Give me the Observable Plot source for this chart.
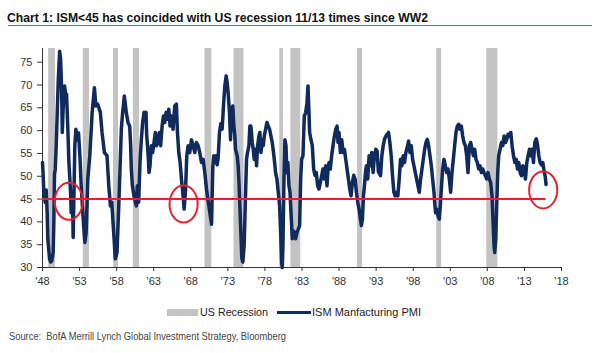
<!DOCTYPE html>
<html>
<head>
<meta charset="utf-8">
<script src="https://cdn.jsdelivr.net/npm/d3@7"></script>
<script src="https://cdn.jsdelivr.net/npm/@observablehq/plot@0.6"></script>
<style>
  html, body { margin: 0; padding: 0; background: #fff; }
  #page { position: relative; width: 600px; height: 353px; overflow: hidden; font-family: "Liberation Sans", Arial, sans-serif; }
  .txt { position: absolute; white-space: nowrap; line-height: 1; display: inline-block; transform-origin: 0 0; }
  #chart { position: absolute; left: 0; top: 30px; }
</style>
</head>
<body>
<div id="page">
  <span class="txt" id="title" style="left:7px; top:10.7px; font-size:13px; font-weight:bold; color:#111;" data-w="421">Chart 1: ISM&lt;45 has coincided with US recession 11/13 times since WW2</span>
  <div style="position:absolute; left:8px; top:25px; width:584px; height:1.3px; background:#66707c;"></div>
  <div id="chart"></div>
  <div style="position:absolute; left:167px; top:309px; width:31px; height:7px; background:#c3c3c3;"></div>
  <span class="txt" id="leg1" style="left:200px; top:307.3px; font-size:11px; color:#222;" data-w="68">US Recession</span>
  <div style="position:absolute; left:277px; top:311px; width:34px; height:3px; background:#102a5c;"></div>
  <span class="txt" id="leg2" style="left:312px; top:307.3px; font-size:11px; color:#222;" data-w="109">ISM Manfacturing PMI</span>
  <span class="txt" id="source" style="left:9px; top:331.3px; font-size:11px; color:#444;" data-w="277">Source:&nbsp; BofA Merrill Lynch Global Investment Strategy, Bloomberg</span>
</div>
<script>
// ---- Data ----
const tickYears = [1948, 1953, 1958, 1963, 1968, 1973, 1978, 1983, 1988, 1993, 1998, 2003, 2008, 2013, 2018];
const tickLabels = ["'48", "'53", "'58", "'63", "'68", "'73", "'78", "'83", "'88", "'93", "'98", "'03", "'08", "'13", "'18"];
const yTicks = [30, 35, 40, 45, 50, 55, 60, 65, 70, 75];
const threshold = 45;

// US recessions (start, end) in decimal years
const recessions = [
  [1948.83, 1949.75], [1953.5, 1954.33], [1957.58, 1958.25], [1960.25, 1961.08],
  [1969.92, 1970.83], [1973.83, 1975.17], [1980.0, 1980.5], [1981.5, 1982.83],
  [1990.5, 1991.17], [2001.17, 2001.83], [2007.92, 2009.42]
];

// ISM Manufacturing PMI (decimal year, value)
const pmiPoints = [
  [1948.0,53],[1948.08,50.5],[1948.18,46.5],[1948.36,44.3],[1948.5,47],[1948.63,42],[1948.72,36.3],[1948.95,31.9],[1949.1,31.2],[1949.25,31.5],[1949.44,33.3],[1949.53,40],[1949.62,50.5],[1949.72,51.5],[1949.85,56.7],[1949.99,64],[1950.13,71.2],[1950.31,77.4],[1950.45,75.6],[1950.58,69],[1950.67,59.6],[1950.8,65.4],[1950.98,69.8],[1951.15,67.6],[1951.24,68],[1951.42,60.3],[1951.56,53],[1951.69,49.4],[1951.78,46.5],[1951.87,42],[1952.0,46.5],[1952.05,44],[1952.09,40.6],[1952.14,36.6],[1952.23,45],[1952.36,56.7],[1952.5,60.3],[1952.68,58],[1952.86,59.5],[1953.04,54.5],[1953.22,47.9],[1953.49,40.6],[1953.71,35.5],[1953.89,37.7],[1954.11,49.4],[1954.38,54.5],[1954.7,64],[1955.0,69.4],[1955.2,65.4],[1955.45,65.8],[1955.8,64],[1956.03,59.6],[1956.35,55.2],[1956.7,54.5],[1956.94,47.9],[1957.16,43.5],[1957.34,44.3],[1957.6,37.7],[1957.82,31.9],[1958.05,33.3],[1958.32,45],[1958.63,60.3],[1958.81,64],[1959.04,67.6],
  [1959.3,64],[1959.53,61.8],[1959.76,61],[1959.89,56.7],[1959.98,51.6],[1960.12,48],[1960.34,45.7],[1960.52,44.3],[1960.66,43.5],[1960.79,47.9],[1960.97,44.3],[1961.15,53],[1961.33,58],[1961.51,61.8],[1961.69,64],[1961.87,63.3],[1961.96,64],[1962.05,59],[1962.23,55.2],[1962.37,50.8],[1962.5,52.3],[1962.68,56.7],[1962.86,55.2],[1963.04,57.4],[1963.22,59.6],[1963.36,56.7],[1963.58,57.4],[1963.76,59.6],[1963.94,56.7],[1964.13,61],[1964.31,63.2],[1964.49,61.8],[1964.67,64],[1964.85,62.5],[1965.03,64.7],[1965.21,61],[1965.39,63.2],[1965.61,60.3],[1965.84,65.4],[1966.06,65.8],[1966.2,59.6],[1966.38,55.2],[1966.56,53],[1966.74,49.4],[1966.92,46.5],[1967.1,42.8],[1967.28,46.5],[1967.46,54.5],[1967.64,56.7],[1967.86,55.2],[1968.09,58],[1968.31,56.7],[1968.54,55.2],[1968.76,57.4],[1968.99,56.7],[1969.21,55.2],[1969.44,53],[1969.67,53.7],[1969.89,50.8],[1970.12,47.2],[1970.34,44.5],[1970.57,42],[1970.8,39.5],
  [1970.97,52],[1971.1,54.5],[1971.24,53],[1971.42,54.5],[1971.56,52.5],[1971.69,54],[1971.87,59.6],[1972.05,61.5],[1972.23,60.3],[1972.41,65.4],[1972.59,69.8],[1972.77,72],[1972.91,70.5],[1973.04,68.3],[1973.22,64],[1973.36,58],[1973.49,64],[1973.67,65.4],[1973.81,61],[1973.94,59],[1974.03,55.9],[1974.26,54.5],[1974.39,52.3],[1974.48,49.4],[1974.62,43.5],[1974.75,37.7],[1974.89,31.9],[1975.02,31.2],[1975.2,34.8],[1975.38,45.7],[1975.52,53.7],[1975.65,55.2],[1975.84,56.7],[1975.97,61],[1976.11,61],[1976.29,57.4],[1976.42,55.9],[1976.56,53.7],[1976.74,55.9],[1976.87,52.3],[1977.01,56.7],[1977.19,58.8],[1977.32,59.6],[1977.46,55.2],[1977.64,58],[1977.78,56.7],[1977.91,58.8],[1978.09,60.3],[1978.27,61.8],[1978.45,61],[1978.63,60.3],[1978.81,58.8],[1978.99,57.4],[1979.21,54.5],[1979.44,50.8],[1979.62,49.4],[1979.8,46.5],[1979.98,43.5],[1980.12,37.7],[1980.25,31.2],[1980.34,30],[1980.43,34.8],[1980.57,49.4],[1980.7,58],[1980.84,56.7],[1980.97,50.8],[1981.1,53],[1981.24,47.9],[1981.38,46.5],[1981.56,40.6],[1981.69,36.3],[1981.85,38],
  [1982.0,37.7],[1982.14,36.3],[1982.32,37.7],[1982.5,38.4],[1982.68,39.2],[1982.82,49.4],[1982.95,53.7],[1983.13,54.5],[1983.31,63.2],[1983.49,63.9],[1983.67,66],[1983.81,69.8],[1983.94,64],[1984.03,59.6],[1984.21,58],[1984.39,56.7],[1984.57,51.6],[1984.75,50.2],[1984.93,50.8],[1985.11,47.9],[1985.29,47.2],[1985.47,48.6],[1985.65,50.1],[1985.83,51.6],[1986.01,49.4],[1986.19,52.3],[1986.37,47.9],[1986.51,51.6],[1986.64,53],[1986.82,51.6],[1987.0,54.5],[1987.18,56.7],[1987.37,58.8],[1987.55,60.3],[1987.73,61],[1987.86,57.4],[1987.99,59.6],[1988.18,55.2],[1988.36,58],[1988.54,55.2],[1988.72,55.9],[1988.9,53.7],[1989.08,51.6],[1989.26,49.4],[1989.44,47.2],[1989.62,45.7],[1989.8,48.6],[1989.98,50.2],[1990.16,49.4],[1990.34,46.5],[1990.52,44.3],[1990.7,42.8],[1990.88,40.6],[1991.01,39.2],[1991.15,40.6],[1991.29,45.7],[1991.42,47.9],[1991.56,50.8],[1991.69,52.3],[1991.87,49.4],[1992.05,54.5],[1992.23,52.3],[1992.41,55.2],[1992.59,50.8],[1992.77,54.5],[1992.95,55.9],[1993.13,55.5],[1993.3,51],
  [1993.59,50.1],[1993.77,54.5],[1993.95,56.7],[1994.13,58.1],[1994.31,58.8],[1994.49,59.2],[1994.67,59.6],[1994.85,57.4],[1995.03,54.5],[1995.21,50.1],[1995.39,46.5],[1995.57,45.7],[1995.75,46.5],[1995.93,45.7],[1996.11,49.4],[1996.29,53.7],[1996.47,52.3],[1996.65,54.5],[1996.83,53],[1997.01,55.2],[1997.19,56.3],[1997.38,57.7],[1997.56,55.2],[1997.74,56.7],[1997.92,53.7],[1998.1,52.3],[1998.28,50.8],[1998.46,49.4],[1998.64,47.9],[1998.82,46.5],[1999.0,49.4],[1999.18,51.6],[1999.36,53.7],[1999.54,55.9],[1999.72,57.4],[1999.9,58.1],[2000.08,56.7],[2000.26,54.5],[2000.44,52.3],[2000.62,49.4],[2000.8,46.5],[2000.89,44.3],[2001.02,42],[2001.16,42.8],[2001.34,41.3],[2001.52,40.6],[2001.65,43.5],[2001.79,47.2],[2001.97,51.6],[2002.15,53.7],[2002.33,52.3],[2002.51,50.8],[2002.69,51.6],[2002.87,49.4],[2003.05,46.5],[2003.23,50.8],[2003.41,53.7],[2003.59,56.7],[2003.77,59.6],[2003.95,61],[2004.13,61.4],[2004.31,60.3],
  [2004.49,61],[2004.67,58.8],[2004.85,57.4],[2005.03,56.7],[2005.21,54.5],[2005.39,50.8],[2005.57,56.7],[2005.75,57.4],[2005.93,55.9],[2006.11,54.5],[2006.29,55.9],[2006.47,53.7],[2006.65,53],[2006.83,51.6],[2007.01,52.3],[2007.19,50.8],[2007.37,51.6],[2007.55,50.8],[2007.73,50.1],[2007.91,49.4],[2008.09,50.8],[2008.27,49.4],[2008.45,48.6],[2008.63,45.7],[2008.77,39.9],[2008.9,34.8],[2008.99,33.3],[2009.13,36.2],[2009.26,43.5],[2009.4,50.8],[2009.53,54.5],[2009.71,55.9],[2009.9,57.4],[2010.08,56.7],[2010.26,58.8],[2010.44,57.4],[2010.62,58.1],[2010.8,59.2],[2010.98,58.8],[2011.16,59.6],[2011.34,56.7],[2011.52,54.5],[2011.71,53],[2011.89,53.7],[2012.06,51.6],[2012.24,53],[2012.42,50.8],[2012.6,50.1],[2012.78,52.3],[2012.96,51.6],[2013.14,49.4],[2013.32,53],[2013.5,54.5],[2013.68,55.9],[2013.86,54.5],[2014.04,55.9],[2014.22,53],[2014.4,57.4],[2014.6,58.2],[2014.76,57],[2014.94,54.5],[2015.12,53],[2015.3,52.5],[2015.48,53],[2015.66,51],[2015.8,50],[2015.92,48.2]
];

// Red circle annotations (decimal year, value)
const circles = [[1951.55, 44.5], [1967.03, 43.9], [2015.53, 47.0]];

// ---- Chart ----
const navy = "#102a5c";
const red = "#e3232b";
const pmi = pmiPoints.map(([year, value]) => ({year, value}));
const firstYear = pmi[0].year, lastYear = pmi[pmi.length - 1].year;

// ellipse symbol (taller than wide)
const ellipse = {
  draw(context, size) {
    const ry = Math.sqrt(size / Math.PI), rx = ry * 0.76, k = 0.5523;
    context.moveTo(rx, 0);
    context.bezierCurveTo(rx, ry * k, rx * k, ry, 0, ry);
    context.bezierCurveTo(-rx * k, ry, -rx, ry * k, -rx, 0);
    context.bezierCurveTo(-rx, -ry * k, -rx * k, -ry, 0, -ry);
    context.bezierCurveTo(rx * k, -ry, rx, -ry * k, rx, 0);
    context.closePath();
  }
};

const chart = Plot.plot({
  width: 600,
  height: 270,
  marginTop: 18,
  marginBottom: 33,
  marginLeft: 42,
  marginRight: 39,
  style: {fontFamily: "'Liberation Sans', Arial, sans-serif", fontSize: "11px", color: "#333", background: "transparent"},
  x: {domain: [1948, 2018], ticks: tickYears, tickFormat: d => tickLabels[tickYears.indexOf(d)], tickSize: 4, tickPadding: 6, line: true, label: null},
  y: {domain: [30, 78], ticks: yTicks, tickSize: 5, tickPadding: 5, line: true, label: null},
  marks: [
    Plot.rect(recessions, {x1: d => d[0], x2: d => d[1], fill: "#c3c3c3"}),
    Plot.line(pmi, {x: "year", y: "value", stroke: navy, strokeWidth: 3.5, strokeLinejoin: "round", strokeLinecap: "round"}),
    Plot.ruleY([threshold], {x1: () => firstYear, x2: () => lastYear, stroke: red, strokeWidth: 2}),
    Plot.dot(circles, {x: d => d[0], y: d => d[1], r: 18.5, symbol: ellipse, stroke: red, strokeWidth: 2, fill: "none"})
  ]
});
document.getElementById("chart").appendChild(chart);

// fit text widths to the reference
document.querySelectorAll(".txt").forEach(el => {
  const w = +el.dataset.w;
  const cur = el.getBoundingClientRect().width;
  if (cur > 0) el.style.transform = `scaleX(${w / cur})`;
});
</script>
</body>
</html>
